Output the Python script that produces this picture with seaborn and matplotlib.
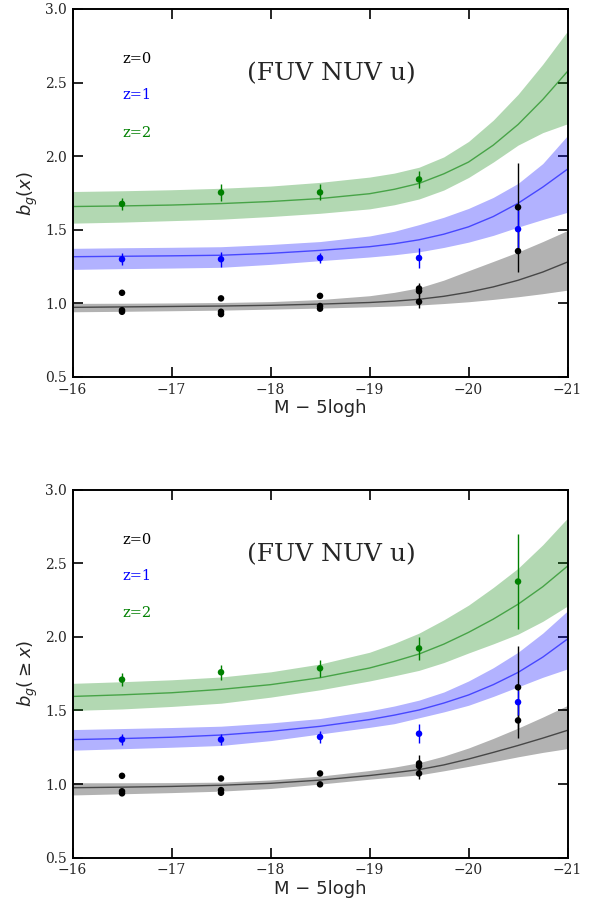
import numpy as np
import pandas as pd
import matplotlib
matplotlib.use("Agg")
import matplotlib.pyplot as plt
import seaborn as sns

# ---------------- data ----------------
grid_x = [-16, -16.5, -17, -17.5, -18, -18.5, -19, -19.25, -19.5, -19.75,
          -20, -20.25, -20.5, -20.75, -21]

# top panel: b_g(x)
top_green_mid = [1.658, 1.662, 1.668, 1.678, 1.692, 1.712, 1.745, 1.775, 1.815, 1.88, 1.96, 2.075, 2.215, 2.385, 2.576]
top_green_hi = [1.760, 1.765, 1.772, 1.782, 1.797, 1.822, 1.858, 1.885, 1.925, 1.995, 2.10, 2.245, 2.42, 2.625, 2.85]
top_green_lo = [1.545, 1.552, 1.562, 1.572, 1.590, 1.612, 1.642, 1.670, 1.709, 1.77, 1.855, 1.96, 2.075, 2.16, 2.22]
top_blue_mid = [1.317, 1.320, 1.323, 1.327, 1.340, 1.360, 1.385, 1.405, 1.432, 1.47, 1.52, 1.59, 1.68, 1.79, 1.912]
top_blue_hi = [1.374, 1.378, 1.381, 1.385, 1.400, 1.420, 1.458, 1.49, 1.535, 1.585, 1.645, 1.72, 1.815, 1.95, 2.14]
top_blue_lo = [1.231, 1.236, 1.240, 1.245, 1.265, 1.290, 1.315, 1.33, 1.35, 1.38, 1.416, 1.462, 1.518, 1.57, 1.619]
top_black_mid = [0.973, 0.976, 0.979, 0.982, 0.987, 0.995, 1.006, 1.015, 1.028, 1.048, 1.076, 1.112, 1.157, 1.213, 1.281]
top_black_hi = [1.000, 1.001, 1.003, 1.006, 1.012, 1.026, 1.052, 1.075, 1.106, 1.158, 1.222, 1.285, 1.349, 1.42, 1.495]
top_black_lo = [0.943, 0.946, 0.950, 0.954, 0.961, 0.968, 0.977, 0.982, 0.989, 0.999, 1.011, 1.027, 1.045, 1.066, 1.09]

# bottom panel: b_g(>=x)
bot_green_mid = [1.595, 1.606, 1.620, 1.643, 1.675, 1.722, 1.788, 1.833, 1.883, 1.95, 2.03, 2.12, 2.221, 2.34, 2.48]
bot_green_hi = [1.684, 1.695, 1.708, 1.727, 1.762, 1.815, 1.895, 1.955, 2.025, 2.115, 2.215, 2.335, 2.465, 2.625, 2.806]
bot_green_lo = [1.500, 1.510, 1.527, 1.549, 1.590, 1.640, 1.700, 1.735, 1.772, 1.825, 1.89, 1.952, 2.018, 2.105, 2.209]
bot_blue_mid = [1.302, 1.309, 1.318, 1.333, 1.358, 1.392, 1.438, 1.468, 1.503, 1.55, 1.605, 1.675, 1.758, 1.862, 1.985]
bot_blue_hi = [1.370, 1.377, 1.384, 1.393, 1.415, 1.445, 1.497, 1.53, 1.57, 1.625, 1.70, 1.79, 1.895, 2.025, 2.176]
bot_blue_lo = [1.230, 1.240, 1.250, 1.262, 1.295, 1.340, 1.385, 1.41, 1.45, 1.49, 1.535, 1.595, 1.66, 1.725, 1.782]
bot_black_mid = [0.975, 0.979, 0.984, 0.992, 1.005, 1.027, 1.058, 1.077, 1.098, 1.13, 1.17, 1.215, 1.262, 1.312, 1.365]
bot_black_hi = [1.009, 1.009, 1.010, 1.013, 1.028, 1.054, 1.092, 1.115, 1.145, 1.19, 1.245, 1.31, 1.38, 1.455, 1.534]
bot_black_lo = [0.926, 0.934, 0.942, 0.952, 0.970, 1.000, 1.033, 1.048, 1.062, 1.09, 1.12, 1.152, 1.185, 1.215, 1.241]

# measured points
mag_bins = [-16.5, -17.5, -18.5, -19.5, -20.5]

top_green_pts = [1.676, 1.753, 1.754, 1.842, np.nan]
top_green_err = [0.04, 0.06, 0.055, 0.06, np.nan]
top_blue_pts = [1.300, 1.300, 1.308, 1.308, 1.504]
top_blue_err = [0.04, 0.05, 0.037, 0.066, 0.13]
top_black_a = [1.072, 1.034, 1.051, 1.101, 1.653]
top_black_a_err = [0.01, 0.01, 0.01, 0.04, 0.30]
top_black_b = [0.954, 0.943, 0.982, 1.083, 1.355]
top_black_b_err = [0.01, 0.01, 0.01, 0.03, 0.14]
top_black_c = [0.943, 0.927, 0.964, 1.011, np.nan]
top_black_c_err = [0.01, 0.01, 0.01, 0.045, np.nan]

bot_green_pts = [1.709, 1.759, 1.786, 1.921, 2.375]
bot_green_err = [0.045, 0.05, 0.056, 0.08, 0.32]
bot_blue_pts = [1.302, 1.302, 1.320, 1.342, 1.556]
bot_blue_err = [0.04, 0.04, 0.04, 0.065, 0.085]
bot_black_a = [1.056, 1.038, 1.072, 1.140, 1.657]
bot_black_a_err = [0.01, 0.01, 0.01, 0.056, 0.28]
bot_black_b = [0.951, 0.959, 0.998, 1.122, 1.432]
bot_black_b_err = [0.01, 0.01, 0.01, 0.04, 0.12]
bot_black_c = [0.937, 0.941, np.nan, 1.072, np.nan]
bot_black_c_err = [0.01, 0.01, np.nan, 0.04, np.nan]

z_labels = ["z=0", "z=1", "z=2"]
z_colors = ["black", "blue", "green"]
panel_title = "(FUV NUV u)"
x_ticks = [-16, -17, -18, -19, -20, -21]
y_ticks = [0.5, 1.0, 1.5, 2.0, 2.5, 3.0]

# ---------------- style ----------------
sns.set_style("white")
plt.rcParams.update({
    "font.family": ["DejaVu Sans"],
    "mathtext.fontset": "dejavusans",
    "axes.linewidth": 1.4,
    "axes.edgecolor": "black",
})

fig = plt.figure(figsize=(5.91, 9.06), dpi=100)
ax_top = fig.add_axes([0.1227, 0.5839, 0.8376, 0.4062])
ax_bot = fig.add_axes([0.1227, 0.0533, 0.8376, 0.4064])


def draw_panel(ax, curves, points, ylabel):
    # bands + model lines
    for (mid, hi, lo), col in curves:
        ax.fill_between(grid_x, lo, hi, color=col, alpha=0.3, linewidth=0)
        sns.lineplot(x=grid_x, y=mid, color=col, lw=1.0, alpha=0.6, ax=ax,
                     sort=False, estimator=None)
    # data points
    for vals, errs, col in points:
        ax.errorbar(mag_bins, vals, yerr=errs, fmt="none", ecolor=col,
                    elinewidth=1.0, capsize=0, zorder=4)
        sns.scatterplot(x=mag_bins, y=vals, color=col, s=22, edgecolor="none",
                        ax=ax, zorder=5)

    ax.set_xlim(-16, -21)
    ax.set_ylim(0.5, 3.0)
    ax.set_xticks(x_ticks)
    ax.set_yticks(y_ticks)
    ax.set_xticklabels([f"\u2212{abs(t)}" for t in x_ticks], family="DejaVu Serif", fontsize=10)
    ax.set_yticklabels([f"{t:.1f}" for t in y_ticks], family="DejaVu Serif", fontsize=10)
    ax.tick_params(direction="in", length=7.5, width=1.4, top=True, right=True,
                   bottom=True, left=True, pad=4)
    ax.set_xlabel("M \u2212 5logh", fontsize=13, labelpad=2)
    ax.set_ylabel(ylabel, fontsize=13, labelpad=4)
    for sp in ax.spines.values():
        sp.set_visible(True)
        sp.set_linewidth(1.4)

    for lab, col, yy in zip(z_labels, z_colors, [0.864, 0.765, 0.664]):
        ax.text(0.1, yy, lab, color=col, transform=ax.transAxes,
                family="DejaVu Serif", fontsize=10.5, va="center", ha="left")
    ax.text(0.522, 0.823, panel_title, transform=ax.transAxes,
            family="DejaVu Serif", fontsize=18, va="center", ha="center")


draw_panel(
    ax_top,
    [((top_black_mid, top_black_hi, top_black_lo), "black"),
     ((top_blue_mid, top_blue_hi, top_blue_lo), "blue"),
     ((top_green_mid, top_green_hi, top_green_lo), "green")],
    [(top_black_a, top_black_a_err, "black"),
     (top_black_b, top_black_b_err, "black"),
     (top_black_c, top_black_c_err, "black"),
     (top_blue_pts, top_blue_err, "blue"),
     (top_green_pts, top_green_err, "green")],
    r"$b_g(x)$",
)

draw_panel(
    ax_bot,
    [((bot_black_mid, bot_black_hi, bot_black_lo), "black"),
     ((bot_blue_mid, bot_blue_hi, bot_blue_lo), "blue"),
     ((bot_green_mid, bot_green_hi, bot_green_lo), "green")],
    [(bot_black_a, bot_black_a_err, "black"),
     (bot_black_b, bot_black_b_err, "black"),
     (bot_black_c, bot_black_c_err, "black"),
     (bot_blue_pts, bot_blue_err, "blue"),
     (bot_green_pts, bot_green_err, "green")],
    r"$b_g(\geq x)$",
)

fig.savefig("out.png", dpi=100)
